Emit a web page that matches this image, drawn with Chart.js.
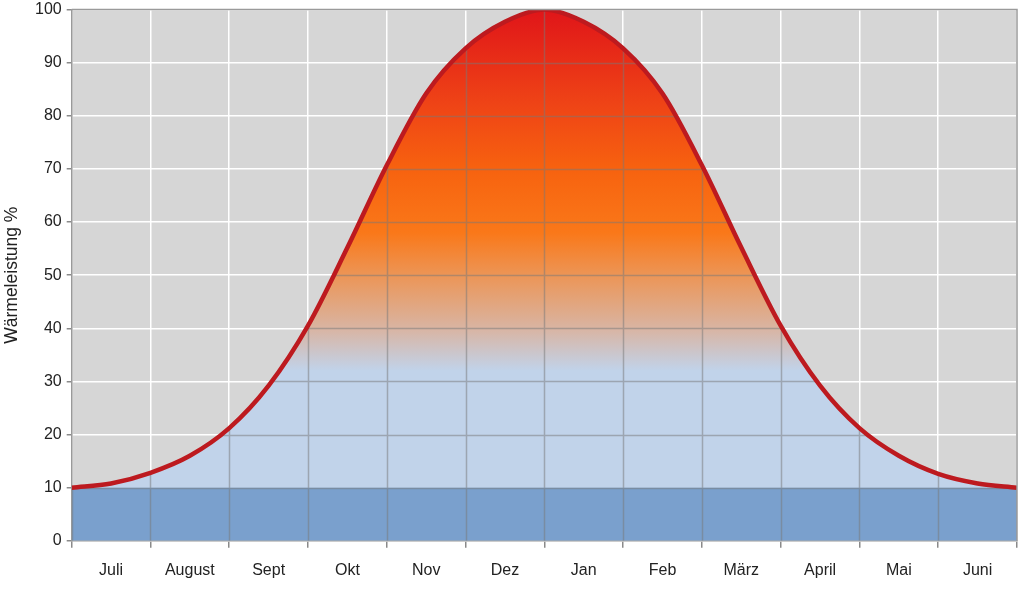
<!DOCTYPE html>
<html>
<head>
<meta charset="utf-8">
<script src="https://cdn.jsdelivr.net/npm/chart.js@4.4.1/dist/chart.umd.min.js"></script>
<style>
  html, body { margin: 0; padding: 0; background: #fff; overflow: hidden; }
  #wrap { position: absolute; left: 0; top: -5px; width: 1030px; height: 604px; }
</style>
</head>
<body>
<div id="wrap"><canvas id="chart"></canvas></div>
<script>
/*-------- DATA ---------------- */
const months = ["Juli", "August", "Sept", "Okt", "Nov", "Dez", "Jan", "Feb", "März", "April", "Mai", "Juni"];
// x position in months (0 = start of Juli, 12 = end of Juni)
const monthPos = [0, 0.5, 1, 1.5, 2, 2.5, 3, 3.5, 4, 4.5, 5, 5.5, 6,
                  6.5, 7, 7.5, 8, 8.5, 9, 9.5, 10, 10.5, 11, 11.5, 12];
const heatLoad = [10, 10.8, 12.8, 16, 21.2, 29.2, 40.5, 55.2, 70.7, 84.2, 92.7, 97.7, 100,
                  97.7, 92.7, 84.2, 70.7, 55.2, 40.5, 29.2, 21.2, 16, 12.6, 10.8, 10];
const baseLoad = [10, 10, 10, 10, 10, 10, 10, 10, 10, 10, 10, 10, 10,
                  10, 10, 10, 10, 10, 10, 10, 10, 10, 10, 10, 10];
const boundaries = [0, 1, 2, 3, 4, 5, 6, 7, 8, 9, 10, 11, 12];
const yTicks = [0, 10, 20, 30, 40, 50, 60, 70, 80, 90, 100];

const FONT = "'Liberation Sans', Arial, sans-serif";

/*-------- GRADIENT FILL ---------------- */
function heatGradient(context) {
  const chart = context.chart;
  const area = chart.chartArea;
  if (!area) return "#c1d3ea";
  const y = chart.scales.y;
  const c = chart.ctx;
  const g = c.createLinearGradient(0, y.getPixelForValue(0), 0, y.getPixelForValue(100));
  const stop = (v, col) => g.addColorStop(v / 100, col);
  stop(0, "#c1d3ea");
  stop(32, "#c1d3ea");
  stop(40, "#d9b4a2");
  stop(50, "#ec9556");
  stop(58, "#fa7819");
  stop(70, "#f7620f");
  stop(82, "#ef4416");
  stop(100, "#e01519");
  return g;
}

/*-------- PLUGINS ---------------- */
const plotBg = {
  id: "plotBg",
  beforeDraw(chart) {
    const { ctx, chartArea: a } = chart;
    ctx.save();
    ctx.fillStyle = "#d6d6d6";
    ctx.fillRect(a.left, a.top, a.right - a.left, a.bottom - a.top);
    ctx.restore();
  },
  afterDraw(chart) {
    const { ctx, chartArea: a } = chart;
    ctx.save();
    ctx.strokeStyle = "#9a9a9a";
    ctx.lineWidth = 1.5;
    ctx.beginPath();
    ctx.moveTo(a.left, a.top);
    ctx.lineTo(a.right, a.top);
    ctx.lineTo(a.right, a.bottom);
    ctx.stroke();
    ctx.restore();
  }
};

// gray grid lines seen through the filled area
const innerGrid = {
  id: "innerGrid",
  beforeDatasetsDraw(chart) {
    const { ctx, chartArea: a, scales } = chart;
    const line = chart.getDatasetMeta(1).dataset;
    ctx.save();
    ctx.beginPath();
    line.path(ctx);
    ctx.lineTo(a.right, a.bottom);
    ctx.lineTo(a.left, a.bottom);
    ctx.closePath();
    ctx.clip();
    ctx.strokeStyle = "rgba(120,120,120,0.5)";
    ctx.lineWidth = 1.5;
    ctx.beginPath();
    boundaries.forEach((b) => {
      const x = Math.round(scales.x.getPixelForValue(b)) + 0.5;
      ctx.moveTo(x, a.top);
      ctx.lineTo(x, a.bottom);
    });
    yTicks.forEach((v) => {
      const y = Math.round(scales.y.getPixelForValue(v)) + 0.5;
      ctx.moveTo(a.left, y);
      ctx.lineTo(a.right, y);
    });
    ctx.stroke();
    ctx.restore();
  }
};

/*-------- CHART ---------------- */
const chart = document.querySelector("#chart").getContext("2d");

new Chart(chart, {
  type: "line",
  data: {
    datasets: [
      {
        label: "Grundlast",
        data: monthPos.map((m, i) => ({ x: m, y: baseLoad[i] })),
        borderWidth: 0,
        pointRadius: 0,
        fill: "origin",
        backgroundColor: "#7aa0cd",
      },
      {
        label: "Wärmeleistung",
        data: monthPos.map((m, i) => ({ x: m, y: heatLoad[i] })),
        borderColor: "#bd1a1f",
        borderWidth: 4.5,
        pointRadius: 0,
        cubicInterpolationMode: "monotone",
        fill: "origin",
        backgroundColor: heatGradient,
      },
    ],
  },
  options: {
    responsive: true,
    maintainAspectRatio: false,
    animation: false,
    layout: { padding: { top: 0, right: 0, left: 0, bottom: 6 } },
    plugins: {
      legend: { display: false },
      tooltip: { enabled: false },
      filler: { drawTime: "beforeDatasetsDraw" },
    },
    scales: {
      x: {
        type: "linear",
        min: 0,
        max: 12,
        afterBuildTicks: (scale) => {
          scale.ticks = monthPos.map((v) => ({ value: v }));
        },
        ticks: {
          autoSkip: false,
          maxRotation: 0,
          padding: 13,
          color: "#222",
          font: { family: FONT, size: 16 },
          callback: (v) => (v % 1 === 0.5 ? months[Math.floor(v)] : ""),
        },
        grid: {
          color: (c) => (c.tick && c.tick.value % 1 === 0 ? "#ffffff" : "rgba(0,0,0,0)"),
          tickColor: (c) => (c.tick && c.tick.value % 1 === 0 ? "#8a8a8a" : "rgba(0,0,0,0)"),
          lineWidth: 1.5,
          tickLength: 7,
        },
        border: { color: "#9a9a9a", width: 1.5 },
      },
      y: {
        min: 0,
        max: 100,
        afterBuildTicks: (scale) => {
          scale.ticks = yTicks.map((v) => ({ value: v }));
        },
        ticks: {
          padding: 5,
          color: "#222",
          font: { family: FONT, size: 16 },
        },
        grid: {
          color: "#ffffff",
          tickColor: "#8a8a8a",
          lineWidth: 1.5,
          tickLength: 5,
        },
        border: { color: "#9a9a9a", width: 1.5 },
        title: {
          display: true,
          text: "Wärmeleistung %",
          color: "#222",
          font: { family: FONT, size: 17.5 },
          padding: { top: 2, bottom: 7 },
        },
      },
    },
  },
  plugins: [plotBg, innerGrid],
});
</script>
</body>
</html>
